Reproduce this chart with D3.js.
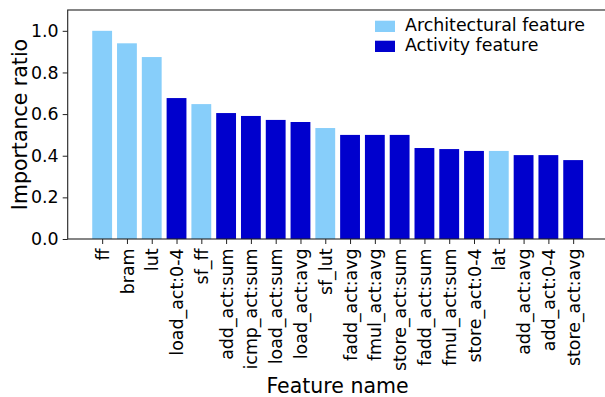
<!DOCTYPE html>
<html><head><meta charset="utf-8">
<script src="https://cdn.jsdelivr.net/npm/d3@7"></script>
<style>body{margin:0;background:#fff}svg{display:block}text{font-family:"DejaVu Sans",sans-serif;fill:#000}</style>
</head><body>
<svg id="c" width="605" height="397"></svg>
<script>
const features = ["ff","bram","lut","load_act:0-4","sf_ff","add_act:sum","icmp_act:sum","load_act:sum","load_act:avg","sf_lut","fadd_act:avg","fmul_act:avg","store_act:sum","fadd_act:sum","fmul_act:sum","store_act:0-4","lat","add_act:avg","add_act:0-4","store_act:avg"];
const importance = [1.0,0.940,0.874,0.677,0.648,0.605,0.591,0.572,0.562,0.533,0.5,0.5,0.5,0.437,0.432,0.423,0.423,0.403,0.403,0.379];
const featureType = ["arch","arch","arch","act","arch","act","act","act","act","arch","act","act","act","act","act","act","arch","act","act","act"];
const legendLabels = ["Architectural feature","Activity feature"];
const yTicks = [0.0,0.2,0.4,0.6,0.8,1.0];
const colors = {arch:"#87CEFA", act:"#0000CD"};

const svg = d3.select("#c");
const L = 67.7, T = 10, B = 239;
const n = features.length;
const unit = 24.79;
const R = L + (n - 1 + 2*1.39) * unit;
const x = d3.scaleLinear().domain([-1.39, n - 1 + 1.39]).range([L, R]);
const y = d3.scaleLinear().domain([0, 1.1]).range([B, T]);

svg.append("g").selectAll("rect").data(importance).join("rect")
  .attr("x", (d,i) => x(i - 0.4)).attr("width", x(0.8) - x(0))
  .attr("y", d => y(d)).attr("height", d => y(0) - y(d))
  .attr("fill", (d,i) => colors[featureType[i]]);

// spines
const sp = svg.append("g").attr("stroke","#222").attr("stroke-width",1.1).attr("fill","none");
sp.append("rect").attr("x",L).attr("y",T).attr("width",R-L).attr("height",B-T);

// y axis
const ya = svg.append("g").attr("transform",`translate(${L},0)`)
  .call(d3.axisLeft(y).tickValues(yTicks).tickFormat(d3.format(".1f")).tickSize(5).tickPadding(4));
ya.select(".domain").remove();
ya.selectAll("line").attr("stroke","#222").attr("stroke-width",1);
ya.selectAll("text").attr("font-size",17.4).attr("font-family","DejaVu Sans").attr("fill","#000");

// x axis
const xa = svg.append("g").attr("transform",`translate(0,${B})`)
  .call(d3.axisBottom(x).tickValues(d3.range(n)).tickFormat(i => features[i]).tickSize(5).tickPadding(4));
xa.select(".domain").remove();
xa.selectAll("line").attr("stroke","#222").attr("stroke-width",1);
xa.selectAll("text").attr("font-size",17.4).attr("font-family","DejaVu Sans").attr("fill","#000")
  .attr("transform","rotate(-90)").attr("text-anchor","end")
  .attr("x",-9.5).attr("y",0).attr("dy","0.35em");

// axis titles
svg.append("text").attr("x",337.5).attr("y",393).attr("text-anchor","middle").attr("font-size",20.5).text("Feature name");
svg.append("text").attr("transform",`translate(26.5,${(T+B)/2}) rotate(-90)`).attr("text-anchor","middle").attr("font-size",20.5).text("Importance ratio");

// legend
const lg = svg.append("g");
legendLabels.forEach((lab, i) => {
  const yy = 20.7 + i*20;
  lg.append("rect").attr("x",375).attr("y",yy).attr("width",20).attr("height",11.3).attr("fill", i===0?colors.arch:colors.act);
  lg.append("text").attr("x",405).attr("y",31 + i*20).attr("font-size",17.4).text(lab);
});
</script>
</body></html>
